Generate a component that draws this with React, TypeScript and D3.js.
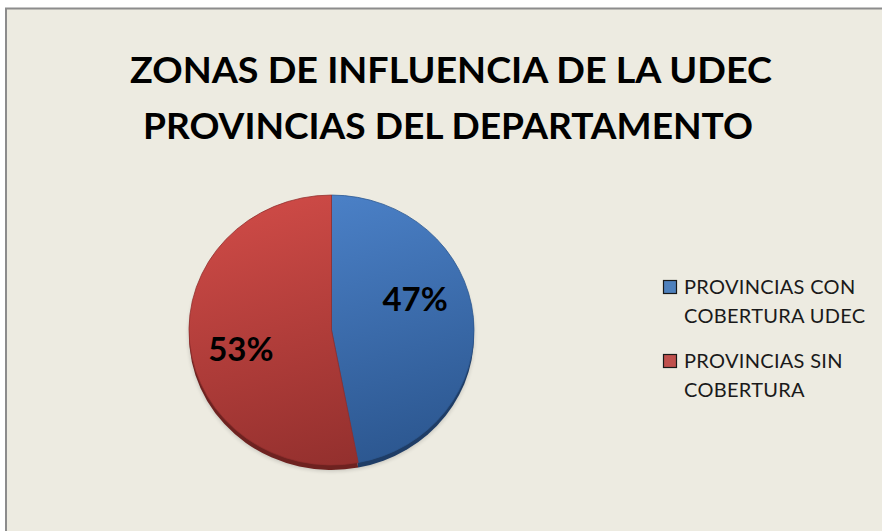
import React, { useEffect, useRef } from 'react';
import * as d3 from 'd3';

// --- data ---
const categories = ['PROVINCIAS CON COBERTURA UDEC', 'PROVINCIAS SIN COBERTURA'];
const legendLines = [['PROVINCIAS CON', 'COBERTURA UDEC'], ['PROVINCIAS SIN', 'COBERTURA']];
const values = [47, 53];
const titleLines = ['ZONAS DE INFLUENCIA DE LA UDEC', 'PROVINCIAS DEL DEPARTAMENTO'];

const colors = ['#4F81BD', '#C0504D'];
const lightColors = ['#4C82C9', '#CD4A46'];
const darkColors = ['#2C5790', '#922F2D'];
const rimColors = ['#1F3D66', '#6E2220'];

const App: React.FC = () => {
  const svgRef = useRef<SVGSVGElement>(null);
  const WIDTH = 882;
  const HEIGHT = 531;

  useEffect(() => {
    if (!svgRef.current) return;
    const svg = d3.select(svgRef.current);
    svg.selectAll('*').remove();

    // frame
    svg.append('rect').attr('width', WIDTH).attr('height', HEIGHT).attr('fill', '#ffffff');
    svg.append('rect')
      .attr('x', 6).attr('y', 8.5)
      .attr('width', WIDTH + 10).attr('height', HEIGHT + 10)
      .attr('fill', '#EDEBE1')
      .attr('stroke', '#8C8C8C')
      .attr('stroke-width', 2);

    // title
    const title = svg.append('text')
      .attr('text-anchor', 'middle')
      .attr('font-family', 'Lato, sans-serif')
      .attr('font-weight', 700)
      .attr('font-size', 36)
      .attr('fill', '#000');
    title.append('tspan').attr('x', 451).attr('y', 83).attr('textLength', 642)
      .attr('lengthAdjust', 'spacingAndGlyphs').text(titleLines[0]);
    title.append('tspan').attr('x', 448).attr('y', 139).attr('textLength', 610)
      .attr('lengthAdjust', 'spacingAndGlyphs').text(titleLines[1]);

    // pie (slightly tilted -> ellipse)
    const cx = 331.5, cy = 330;
    const R = 142.5;
    const squash = 0.947;
    const depth = 5;

    const defs = svg.append('defs');
    colors.forEach((_, i) => {
      const grad = defs.append('linearGradient')
        .attr('id', `grad${i}`)
        .attr('gradientUnits', 'userSpaceOnUse')
        .attr('x1', -R * 0.3).attr('y1', -R)
        .attr('x2', R * 0.3).attr('y2', R);
      grad.append('stop').attr('offset', '0%').attr('stop-color', lightColors[i]);
      grad.append('stop').attr('offset', '100%').attr('stop-color', darkColors[i]);
    });
    const blur = defs.append('filter').attr('id', 'soft')
      .attr('x', '-10%').attr('y', '-10%').attr('width', '120%').attr('height', '130%');
    blur.append('feGaussianBlur').attr('stdDeviation', 2);

    const pie = d3.pie<number>().sort(null).value(d => d);
    const arcs = pie(values);
    const arc = d3.arc<d3.PieArcDatum<number>>().innerRadius(0).outerRadius(R);

    // soft shadow
    svg.append('ellipse')
      .attr('cx', cx).attr('cy', cy + depth + 1)
      .attr('rx', R).attr('ry', R * squash)
      .attr('fill', '#000').attr('opacity', 0.18)
      .attr('filter', 'url(#soft)');

    // rim (side of the 3D disc)
    const rim = svg.append('g')
      .attr('transform', `translate(${cx},${cy + depth}) scale(1,${squash})`);
    rim.selectAll('path').data(arcs).join('path')
      .attr('d', arc)
      .attr('fill', (d, i) => rimColors[i]);

    const top = svg.append('g')
      .attr('transform', `translate(${cx},${cy}) scale(1,${squash})`);
    top.selectAll('path').data(arcs).join('path')
      .attr('d', arc)
      .attr('fill', (d, i) => `url(#grad${i})`)
      .attr('stroke', (d, i) => darkColors[i])
      .attr('stroke-width', 0.8);

    // data labels
    const labelArc = d3.arc<d3.PieArcDatum<number>>().innerRadius(88).outerRadius(88);
    const labelShift = [[-4, -22], [-3, 12]];
    const total = d3.sum(values);
    svg.selectAll('text.lbl').data(arcs).join('text')
      .attr('class', 'lbl')
      .attr('x', (d, i) => cx + labelArc.centroid(d)[0] + labelShift[i][0])
      .attr('y', (d, i) => cy + labelArc.centroid(d)[1] * squash + labelShift[i][1] + 11)
      .attr('text-anchor', 'middle')
      .attr('font-family', 'Lato, sans-serif')
      .attr('font-weight', 700)
      .attr('font-size', 33)
      .attr('fill', '#000')
      .text(d => `${Math.round((d.value / total) * 100)}%`);

    // legend
    const legend = svg.append('g').attr('transform', 'translate(663,280)');
    const entry = legend.selectAll('g').data(categories).join('g')
      .attr('transform', (d, i) => `translate(0,${i * 74})`);
    entry.append('rect')
      .attr('x', 0.5).attr('y', 0.5)
      .attr('width', 13).attr('height', 13)
      .attr('fill', (d, i) => colors[i])
      .attr('stroke', '#1a1a1a')
      .attr('stroke-width', 1.2);
    entry.each(function (d, i) {
      const t = d3.select(this).append('text')
        .attr('font-family', 'Lato, sans-serif')
        .attr('font-size', 20)
        .attr('letter-spacing', 0.3)
        .attr('fill', '#1a1a1a');
      legendLines[i].forEach((line, j) => {
        t.append('tspan').attr('x', 21).attr('y', 13.5 + j * 29.5).text(line);
      });
    });
  }, []);

  return (
    <svg
      ref={svgRef}
      width={WIDTH}
      height={HEIGHT}
      viewBox={`0 0 ${WIDTH} ${HEIGHT}`}
      style={{ position: 'absolute', left: 0, top: 0 }}
    />
  );
};

export default App;
